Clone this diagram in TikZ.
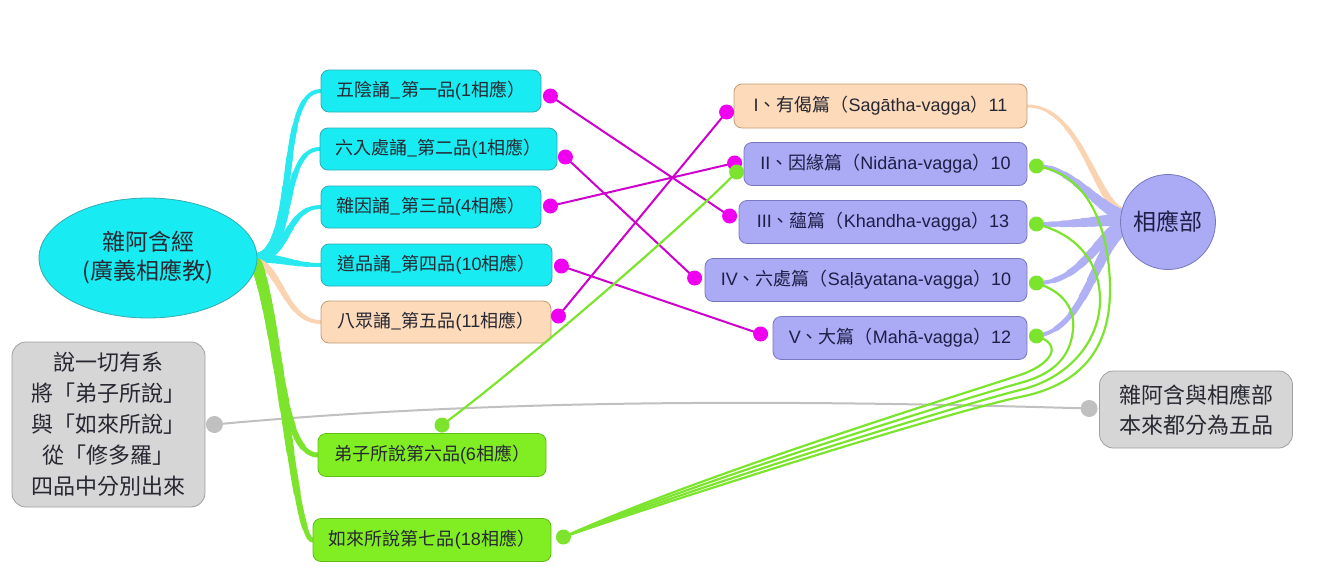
\documentclass[tikz,border=0pt]{standalone}
\usepackage{fontspec}
\setmainfont{Liberation Sans}
\newfontfamily\cjk{Noto Sans CJK TC}
\usetikzlibrary{calc,shapes.geometric}
\pgfdeclarelayer{bg}
\pgfsetlayers{bg,main}
\newcommand\cj[1]{{\cjk #1}}
\definecolor{cyanF}{RGB}{24,236,242}
\definecolor{cyanD}{RGB}{50,170,175}
\definecolor{cyanL}{RGB}{40,232,240}
\definecolor{peachF}{RGB}{252,218,186}
\definecolor{peachD}{RGB}{195,155,115}
\definecolor{peachL}{RGB}{250,212,178}
\definecolor{lavF}{RGB}{170,170,245}
\definecolor{lavD}{RGB}{120,120,190}
\definecolor{lavL}{RGB}{176,176,245}
\definecolor{grnF}{RGB}{128,238,34}
\definecolor{grnD}{RGB}{95,190,25}
\definecolor{grnL}{RGB}{125,228,45}
\definecolor{gryF}{RGB}{214,214,214}
\definecolor{gryD}{RGB}{160,160,160}
\definecolor{gryL}{RGB}{192,192,192}
\definecolor{magL}{RGB}{205,0,205}
\definecolor{magF}{RGB}{240,0,240}
\definecolor{txt}{RGB}{40,40,50}
% left part [0,t] of a cubic A B C D, control points #6b #6c, end #6m
\newcommand\leftpart[6]{%
 \path ($(#1)!#5!(#2)$) coordinate (#6b) ($(#2)!#5!(#3)$) coordinate (#6t) ($(#3)!#5!(#4)$) coordinate (#6u);
 \path ($(#6b)!#5!(#6t)$) coordinate (#6c) ($(#6t)!#5!(#6u)$) coordinate (#6v);
 \path ($(#6c)!#5!(#6v)$) coordinate (#6m);}
\newcommand\tbranch[7]{%
 \path (#1) coordinate (qA) (#2) coordinate (qB) (#3) coordinate (qC) (#4) coordinate (qD);
 \draw[#5,line width=#7pt] (qA) .. controls (qB) and (qC) .. (qD);
 \foreach \tt in {0.85,0.7,0.57,0.45,0.34,0.25,0.17,0.1,0.05}{%
   \leftpart{qA}{qB}{qC}{qD}{\tt}{p}
   \pgfmathsetmacro\ww{#7+(#6-#7)*(1-\tt)}
   \draw[#5,line width=\ww pt] (qA) .. controls (pb) and (pc) .. (pm);
 }}
\begin{document}
\begin{tikzpicture}[x=1pt,y=-1pt,
  box/.style={draw, rounded corners=8pt, line width=0.8pt, inner sep=0pt, minimum height=42pt, text=txt, font=\fontsize{18}{21}\selectfont},
  cyanbox/.style={box, fill=cyanF, draw=cyanD},
  peachbox/.style={box, fill=peachF, draw=peachD},
  lavbox/.style={box, fill=lavF, draw=lavD, text={rgb,255:red,30;green,30;blue,70}},
  grnbox/.style={box, fill=grnF, draw=grnD},
  notebox/.style={draw=gryD, fill=gryF, rounded corners=14pt, line width=0.8pt, inner sep=0pt, align=center, text=txt},
  mdot/.style={circle, fill=magF, inner sep=0pt, minimum size=15pt},
  gdot/.style={circle, fill=grnL, inner sep=0pt, minimum size=15pt},
  ydot/.style={circle, fill=gryL, inner sep=0pt, minimum size=17pt},
  mline/.style={draw=magL, line width=2pt},
  gline/.style={draw=grnL, line width=2.2pt},
  cyanbr/.style={cyanL, line cap=round},
  peachbr/.style={peachL, line cap=round},
  grnbr/.style={grnL, line cap=round},
  lavbr/.style={lavL, line cap=round}]
\useasboundingbox (0,0) rectangle (1318,584);

% main nodes
\node[ellipse, fill=cyanF, draw=cyanD, line width=0.8pt, minimum width=218pt, minimum height=120pt, inner sep=0pt, align=center, text=txt, font=\fontsize{23}{29}\selectfont] (root) at (148,258) {\cj{雜阿含經}\\\cj{(廣義相應教)}};

\node[cyanbox, minimum width=220pt] (b1) at (431,91) {\cj{五陰誦\_第一品}(1\cj{相應）}};
\node[cyanbox, minimum width=237pt] (b2) at (438.5,149) {\cj{六入處誦\_第二品}(1\cj{相應）}};
\node[cyanbox, minimum width=220pt] (b3) at (431,207) {\cj{雜因誦\_第三品}(4\cj{相應）}};
\node[cyanbox, minimum width=231pt] (b4) at (436.5,265) {\cj{道品誦\_第四品}(10\cj{相應）}};
\node[peachbox, minimum width=230pt] (b5) at (436,322) {\cj{八眾誦\_第五品}(11\cj{相應）}};
\node[grnbox, minimum width=228pt, minimum height=43pt] (b6) at (432,455) {\cj{弟子所說第六品}(6\cj{相應）}};
\node[grnbox, minimum width=238pt, minimum height=43pt] (b7) at (432,540) {\cj{如來所說第七品}(18\cj{相應）}};

\node[peachbox, minimum width=293pt, minimum height=44pt] (r1) at (880.5,106) {I\cj{、有偈篇（}Sagātha-vagga\cj{）}11};
\node[lavbox, minimum width=283pt, minimum height=43pt] (r2) at (885.5,164) {II\cj{、因緣篇（}Nidāna-vagga\cj{）}10};
\node[lavbox, minimum width=288pt, minimum height=43pt] (r3) at (883,222) {III\cj{、蘊篇（}Khandha-vagga\cj{）}13};
\node[lavbox, minimum width=322pt, minimum height=43pt] (r4) at (866,280) {IV\cj{、六處篇（}Saḷāyatana-vagga\cj{）}10};
\node[lavbox, minimum width=254pt, minimum height=43pt] (r5) at (900,338) {V\cj{、大篇（}Mahā-vagga\cj{）}12};

\node[circle, fill=lavF, draw=lavD, line width=0.8pt, minimum size=95pt, inner sep=0pt, text={rgb,255:red,30;green,30;blue,70}, font=\fontsize{23}{27}\selectfont] (hub) at (1168,222) {\cj{相應部}};

\node[notebox, minimum width=193pt, minimum height=165pt, font=\fontsize{22}{31}\selectfont] (gL) at (108.5,424.5) {\cj{說一切有系}\\\cj{將「弟子所說」}\\\cj{與「如來所說」}\\\cj{從「修多羅」}\\\cj{四品中分別出來}};
\node[notebox, minimum width=193pt, minimum height=77pt, font=\fontsize{22}{30}\selectfont] (gR) at (1196,409.5) {\cj{雜阿含與相應部}\\\cj{本來都分為五品}};

% dot positions
\coordinate (m1) at ($(b1.east)+(9,5)$);
\coordinate (m2) at ($(b2.east)+(8,8)$);
\coordinate (m3) at ($(b3.east)+(9,-1)$);
\coordinate (m4) at ($(b4.east)+(9,1)$);
\coordinate (m5) at ($(b5.east)+(7,-6)$);
\coordinate (n1) at ($(r1.west)+(-7,6)$);
\coordinate (n2) at ($(r2.west)+(-9,-1)$);
\coordinate (n3) at ($(r3.west)+(-9,-6)$);
\coordinate (n4) at ($(r4.west)+(-10,-2)$);
\coordinate (n5) at ($(r5.west)+(-12,-4)$);
\coordinate (g2l) at ($(r2.west)+(-7,8)$);
\coordinate (g6) at ($(b6.north)+(10,-8)$);
\coordinate (g7) at ($(b7.east)+(12,-3)$);
\coordinate (gr2) at ($(r2.east)+(9,2)$);
\coordinate (gr3) at ($(r3.east)+(9,2)$);
\coordinate (gr4) at ($(r4.east)+(9,3)$);
\coordinate (gr5) at ($(r5.east)+(9,-2)$);
\coordinate (gdL) at ($(gL.east)+(9,0)$);
\coordinate (gdR) at ($(gR.west)+(-10,-1)$);

\begin{pgfonlayer}{bg}
 \draw[draw=gryL, line width=2pt] (gdL) .. controls (500,398) and (800,400) .. (gdR);
 % branches from root
 \tbranch{$(root.east)+(-3,0)$}{300,258}{275,91}{b1.west}{cyanbr}{10}{4}
 \tbranch{$(root.east)+(-3,0)$}{295,258}{280,149}{b2.west}{cyanbr}{10}{4}
 \tbranch{$(root.east)+(-3,0)$}{290,258}{285,207}{b3.west}{cyanbr}{10}{4}
 \tbranch{$(root.east)+(-3,0)$}{285,258}{290,265}{b4.west}{cyanbr}{10}{4}
 \tbranch{$(root.east)+(-2,4)$}{280,265}{285,322}{b5.west}{peachbr}{8}{4}
 \tbranch{$(root.east)+(-1,6)$}{280,330}{280,455}{b6.west}{grnbr}{12}{5}
 \tbranch{$(root.east)+(-1,6)$}{280,330}{295,540}{b7.west}{grnbr}{12}{5}
 % branches into hub
 \tbranch{$(hub.west)+(2,-10)$}{1095,200}{1080,106}{r1.east}{peachbr}{8}{3}
 \tbranch{$(hub.west)+(2,-6)$}{1095,205}{1070,166}{gr2}{lavbr}{13}{4}
 \tbranch{$(hub.west)+(2,-3)$}{1090,222}{1065,225}{gr3}{lavbr}{13}{4}
 \tbranch{$(hub.west)+(3,2)$}{1095,240}{1080,283}{gr4}{lavbr}{13}{4}
 \tbranch{$(hub.west)+(4,5)$}{1095,250}{1085,330}{gr5}{lavbr}{13}{4}
\end{pgfonlayer}

% magenta cross links
\draw[mline] (m1) -- (n3);
\draw[mline] (m2) -- (n4);
\draw[mline] (m3) -- (n2);
\draw[mline] (m4) -- (n5);
\draw[mline] (m5) -- (n1);
% green links
\draw[gline] (g6) .. controls (510,375) and (680,230) .. (g2l);
\draw[gline] (gr2) .. controls (1095,175) and (1110,240) .. (1110,290) .. controls (1110,350) and (1080,385) .. (1020,397) .. controls (960,409) and (700,490) .. (g7);
\draw[gline] (gr3) .. controls (1080,235) and (1100,265) .. (1100,300) .. controls (1100,340) and (1070,378) .. (1020,390) .. controls (960,405) and (700,485) .. (g7);
\draw[gline] (gr4) .. controls (1065,292) and (1075,310) .. (1073,330) .. controls (1070,360) and (1050,375) .. (1020,383) .. controls (960,400) and (700,480) .. (g7);
\draw[gline] (gr5) .. controls (1065,345) and (1050,365) .. (1020,375) .. controls (960,395) and (700,475) .. (g7);

% dots on top
\node[mdot] (M1) at (m1) {};
\node[mdot] (M2) at (m2) {};
\node[mdot] (M3) at (m3) {};
\node[mdot] (M4) at (m4) {};
\node[mdot] (M5) at (m5) {};
\node[mdot] (N1) at (n1) {};
\node[mdot] (N2) at (n2) {};
\node[mdot] (N3) at (n3) {};
\node[mdot] (N4) at (n4) {};
\node[mdot] (N5) at (n5) {};
\node[gdot] (G2l) at (g2l) {};
\node[gdot] (G6) at (g6) {};
\node[gdot] (G7) at (g7) {};
\node[gdot] (G2) at (gr2) {};
\node[gdot] (G3) at (gr3) {};
\node[gdot] (G4) at (gr4) {};
\node[gdot] (G5) at (gr5) {};
\node[ydot] (YL) at (gdL) {};
\node[ydot] (YR) at (gdR) {};
\end{tikzpicture}
\end{document}
